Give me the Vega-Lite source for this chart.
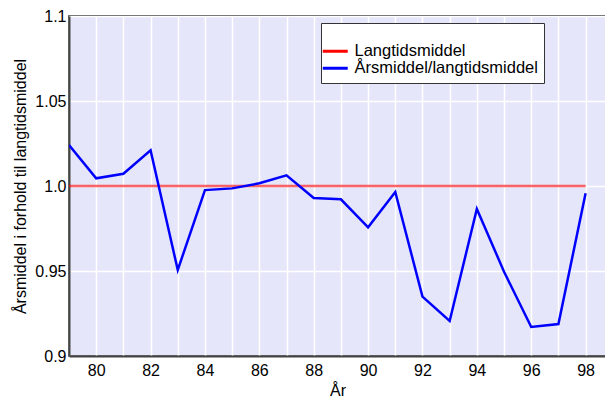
{
  "$schema": "https://vega.github.io/schema/vega-lite/v6.json",
  "autosize": {"type": "none"},
  "width": 537,
  "height": 340,
  "padding": {"left": 69, "top": 16, "right": 0, "bottom": 45},
  "background": "white",
  "config": {
    "font": "Liberation Sans",
    "view": {"fill": "#e6e6fa", "stroke": "#111111", "strokeWidth": 1.5},
    "axis": {"labelFont": "Liberation Sans", "titleFont": "Liberation Sans", "labelColor": "black", "titleColor": "black", "labelFontSize": 16, "titleFontSize": 16, "titleFontWeight": "normal", "gridColor": "white", "gridWidth": 1.5, "gridOpacity": 1, "ticks": false, "domainColor": "#444444", "domainWidth": 2}
  },
  "data": {
    "values": [
      {"year": 79, "value": 1.0, "series": "Langtidsmiddel"},
      {"year": 98, "value": 1.0, "series": "Langtidsmiddel"},
      {"year": 79, "value": 1.0241, "series": "Årsmiddel/langtidsmiddel"},
      {"year": 80, "value": 1.0045, "series": "Årsmiddel/langtidsmiddel"},
      {"year": 81, "value": 1.0072, "series": "Årsmiddel/langtidsmiddel"},
      {"year": 82, "value": 1.021, "series": "Årsmiddel/langtidsmiddel"},
      {"year": 83, "value": 0.9506, "series": "Årsmiddel/langtidsmiddel"},
      {"year": 84, "value": 0.9976, "series": "Årsmiddel/langtidsmiddel"},
      {"year": 85, "value": 0.9986, "series": "Årsmiddel/langtidsmiddel"},
      {"year": 86, "value": 1.0016, "series": "Årsmiddel/langtidsmiddel"},
      {"year": 87, "value": 1.0063, "series": "Årsmiddel/langtidsmiddel"},
      {"year": 88, "value": 0.9929, "series": "Årsmiddel/langtidsmiddel"},
      {"year": 89, "value": 0.9922, "series": "Årsmiddel/langtidsmiddel"},
      {"year": 90, "value": 0.9757, "series": "Årsmiddel/langtidsmiddel"},
      {"year": 91, "value": 0.9965, "series": "Årsmiddel/langtidsmiddel"},
      {"year": 92, "value": 0.9349, "series": "Årsmiddel/langtidsmiddel"},
      {"year": 93, "value": 0.9206, "series": "Årsmiddel/langtidsmiddel"},
      {"year": 94, "value": 0.9865, "series": "Årsmiddel/langtidsmiddel"},
      {"year": 95, "value": 0.9496, "series": "Årsmiddel/langtidsmiddel"},
      {"year": 96, "value": 0.9171, "series": "Årsmiddel/langtidsmiddel"},
      {"year": 97, "value": 0.9188, "series": "Årsmiddel/langtidsmiddel"},
      {"year": 98, "value": 0.9957, "series": "Årsmiddel/langtidsmiddel"}
    ]
  },
  "mark": {"type": "line", "strokeWidth": 2.5, "clip": true},
  "encoding": {
    "x": {
      "field": "year", "type": "quantitative",
      "scale": {"domain": [79, 98.75], "nice": false, "zero": false},
      "axis": {"title": "År", "values": [79,80,81,82,83,84,85,86,87,88,89,90,91,92,93,94,95,96,97,98], "labelExpr": "datum.value % 2 == 0 ? datum.label : ''", "labelPadding": 6, "titlePadding": 4, "labelFlush": false, "labelOverlap": false}
    },
    "y": {
      "field": "value", "type": "quantitative",
      "scale": {"domain": [0.9, 1.1], "nice": false, "zero": false},
      "axis": {"title": "Årsmiddel i forhold til langtidsmiddel", "values": [0.9, 0.95, 1.0, 1.05, 1.1], "labelExpr": "datum.value == 1 ? '1.0' : format(datum.value, '.2~f')", "labelPadding": 3, "titlePadding": 6, "labelFlush": false, "labelOverlap": false}
    },
    "color": {
      "field": "series", "type": "nominal",
      "scale": {"domain": ["Langtidsmiddel", "Årsmiddel/langtidsmiddel"], "range": ["#ff0000", "#0000ff"]},
      "legend": {"title": " ", "orient": "none", "legendX": 252, "legendY": 7, "symbolType": "M-2,0L2,0", "symbolSize": 156, "symbolStrokeWidth": 3, "symbolOpacity": 1, "labelFont": "Liberation Sans", "labelFontSize": 16.5, "labelLimit": 400, "titleFontSize": 14, "titlePadding": 0, "padding": 6, "rowPadding": 0, "fillColor": "white", "strokeColor": "#333333", "labelColor": "black", "labelOffset": 11}
    },
    "opacity": {
      "condition": {"test": "datum.series == 'Langtidsmiddel'", "value": 0.6},
      "value": 1
    }
  }
}
